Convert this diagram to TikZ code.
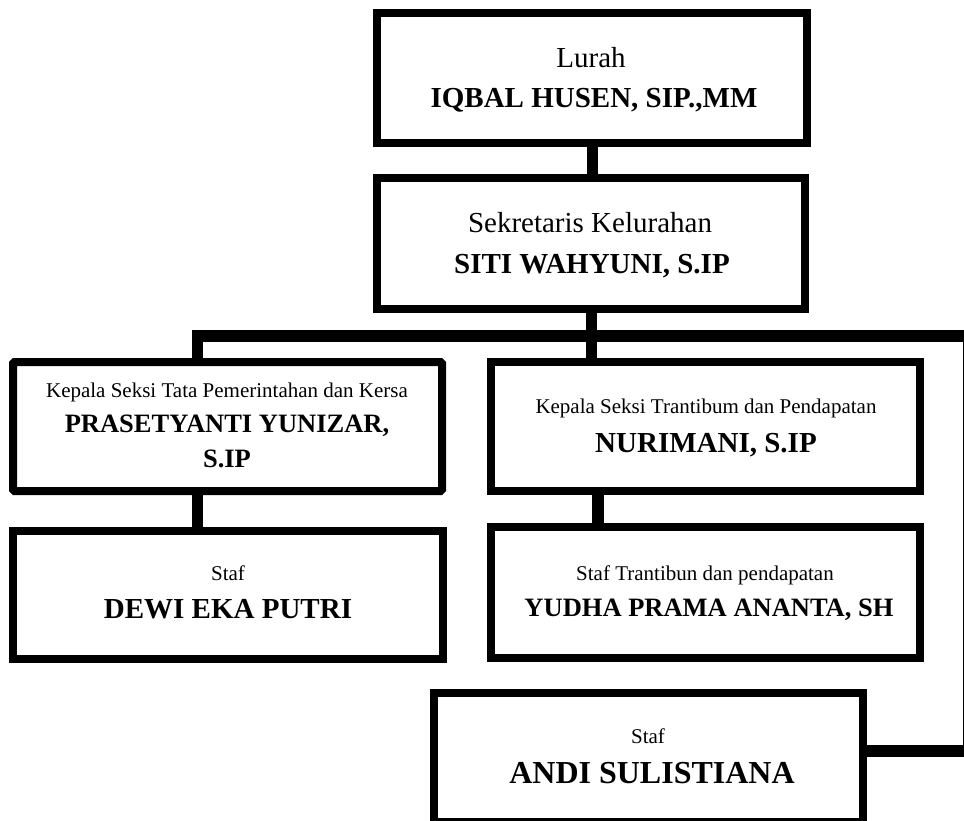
\documentclass[tikz,border=0pt]{standalone}
\usepackage{fontspec}
\setmainfont{Liberation Serif}
\begin{document}
\begin{tikzpicture}[x=1pt,y=-1pt,
  box/.style={draw=black,line width=8pt,minimum width=#1,inner sep=0pt},
  conn/.style={draw=black,line width=11.5pt,line join=miter,line cap=butt},
  big/.style={anchor=base,inner sep=0pt,font=\fontsize{29}{34}\selectfont\bfseries},
  reg/.style={anchor=base,inner sep=0pt,font=\fontsize{29}{34}\selectfont},
  small/.style={anchor=base,inner sep=0pt,font=\fontsize{21}{25}\selectfont},
  mid/.style={anchor=base,inner sep=0pt,font=\fontsize{26.5}{30}\selectfont\bfseries},
  huge/.style={anchor=base,inner sep=0pt,font=\fontsize{32}{36}\selectfont\bfseries}]
\useasboundingbox[fill=white] (0,0) rectangle (964,820);

% boxes
\node[box=430pt,minimum height=130pt] (lurah) at (592,78) {};
\node[box=428pt,minimum height=131pt] (sekre) at (591,243.5) {};
\node[box=429pt,minimum height=129pt,rounded corners=1.5pt] (kasi1) at (227.5,426.5) {};
\node[box=430pt,minimum height=128pt] (dewi) at (228,595) {};
\node[box=429pt,minimum height=129pt] (kasi2) at (705.5,426.5) {};
\node[box=429pt,minimum height=131pt] (yudha) at (705.5,592.5) {};
\node[box=429pt,minimum height=129pt] (andi) at (648.5,757.5) {};

% bus coordinates
\coordinate (busL) at (197.5,336);
\coordinate (busM) at (591.5,336);
\coordinate (busR) at (969,336);
\coordinate (busRB) at (969,751);
\coordinate (topc) at (592.5,0);
\coordinate (c2) at (598,0);

% connectors
\draw[conn] (topc |- lurah.south) -- (topc |- sekre.north);
\draw[conn] (busM |- sekre.south) -- (busM |- kasi2.north);
\draw[conn] (busL |- kasi1.north) -- (busL) -- (busR) -- (busRB) -- (busRB -| andi.east);
\draw[conn] (busL |- kasi1.south) -- (busL |- dewi.north);
\draw[conn] (c2 |- kasi2.south) -- (c2 |- yudha.north);

% texts
\node[reg] (t1a) at (591,67) {Lurah};
\node[big] (t1b) at (594,107) {IQBAL HUSEN, SIP.,MM};
\node[reg] (t2a) at (590,232) {Sekretaris Kelurahan};
\node[big] (t2b) at (592,273) {SITI WAHYUNI, S.IP};
\node[small] (t3a) at (227,397) {Kepala Seksi Tata Pemerintahan dan Kersa};
\node[mid] (t3b) at (227,432) {PRASETYANTI YUNIZAR,};
\node[mid] (t3c) at (227,467) {S.IP};
\node[small] (t4a) at (228,580) {Staf};
\node[big] (t4b) at (228,618) {DEWI EKA PUTRI};
\node[small] (t5a) at (706,413) {Kepala Seksi Trantibum dan Pendapatan};
\node[big] (t5b) at (706,452) {NURIMANI, S.IP};
\node[small] (t6a) at (705,580) {Staf Trantibun dan pendapatan};
\node[mid] (t6b) at (709,616) {YUDHA PRAMA ANANTA, SH};
\node[small] (t7a) at (648,743) {Staf};
\node[huge] (t7b) at (652,783) {ANDI SULISTIANA};
\end{tikzpicture}
\end{document}
